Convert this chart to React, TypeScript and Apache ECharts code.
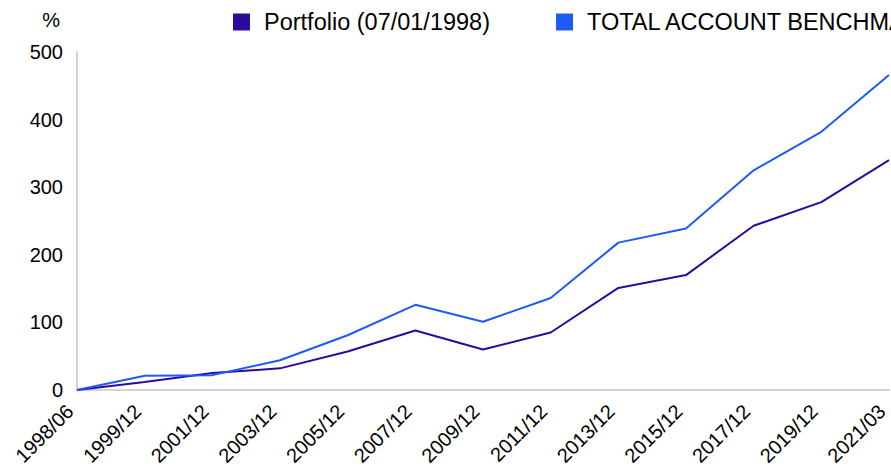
import React, { useEffect, useRef } from "react";
import * as echarts from "echarts";

const categories = [
  "1998/06", "1999/12", "2001/12", "2003/12", "2005/12", "2007/12", "2009/12",
  "2011/12", "2013/12", "2015/12", "2017/12", "2019/12", "2021/03",
];
const portfolioName = "Portfolio (07/01/1998)";
const benchmarkName = "TOTAL ACCOUNT BENCHMARK";
const portfolio = [0, 12, 25, 32, 57, 88, 60, 85, 151, 170, 243, 278, 340];
const benchmark = [0, 21, 22, 44, 81, 126, 101, 136, 218, 239, 325, 382, 466];
const yTicks = { min: 0, max: 500, interval: 100 };

const FONT = "'Liberation Sans', Arial, sans-serif";

export default function App() {
  const ref = useRef<HTMLDivElement>(null);
  useEffect(() => {
    if (!ref.current) return;
    const chart = echarts.init(ref.current, null, { renderer: "svg" });
    chart.setOption({
      animation: false,
      textStyle: { fontFamily: FONT },
      legend: {
        left: 233,
        top: 10,
        padding: 0,
        width: 3000,
        itemWidth: 17,
        itemHeight: 17,
        itemGap: 66,
        icon: "rect",
        textStyle: { fontSize: 23.5, color: "#000", fontFamily: FONT, padding: [0, 0, 0, 9] },
        data: [portfolioName, benchmarkName],
      },
      grid: { left: 77, right: 2, top: 52, bottom: 76, containLabel: false, outerBoundsMode: "none" },
      xAxis: {
        type: "category",
        data: categories,
        boundaryGap: false,
        axisTick: { show: false },
        axisLine: { show: true, lineStyle: { color: "#d3d3d3", width: 2 } },
        axisLabel: {
          interval: 0,
          rotate: 45,
          fontSize: 20,
          color: "#000",
          fontFamily: FONT,
          margin: 25,
          verticalAlign: "bottom",
        },
      },
      yAxis: {
        type: "value",
        min: yTicks.min,
        max: yTicks.max,
        interval: yTicks.interval,
        name: "%",
        nameLocation: "end",
        nameGap: 22,
        nameTextStyle: { fontSize: 20, color: "#000", fontFamily: FONT, align: "right", padding: [0, 17, 0, 0] },
        axisLine: { show: true, lineStyle: { color: "#d3d3d3", width: 2 } },
        axisTick: { show: false },
        splitLine: { show: false },
        axisLabel: { fontSize: 20, color: "#000", fontFamily: FONT, margin: 14 },
      },
      series: [
        {
          name: portfolioName,
          type: "line",
          data: portfolio,
          symbol: "none",
          itemStyle: { color: "#2D0A9E" },
          lineStyle: { color: "#2D0A9E", width: 2 },
        },
        {
          name: benchmarkName,
          type: "line",
          data: benchmark,
          symbol: "none",
          itemStyle: { color: "#1E5AF5" },
          lineStyle: { color: "#1E5AF5", width: 2 },
        },
      ],
    });
    return () => chart.dispose();
  }, []);
  return (
    <div
      ref={ref}
      style={{ position: "fixed", left: 0, top: 0, width: 891, height: 466, background: "#fff" }}
    />
  );
}
